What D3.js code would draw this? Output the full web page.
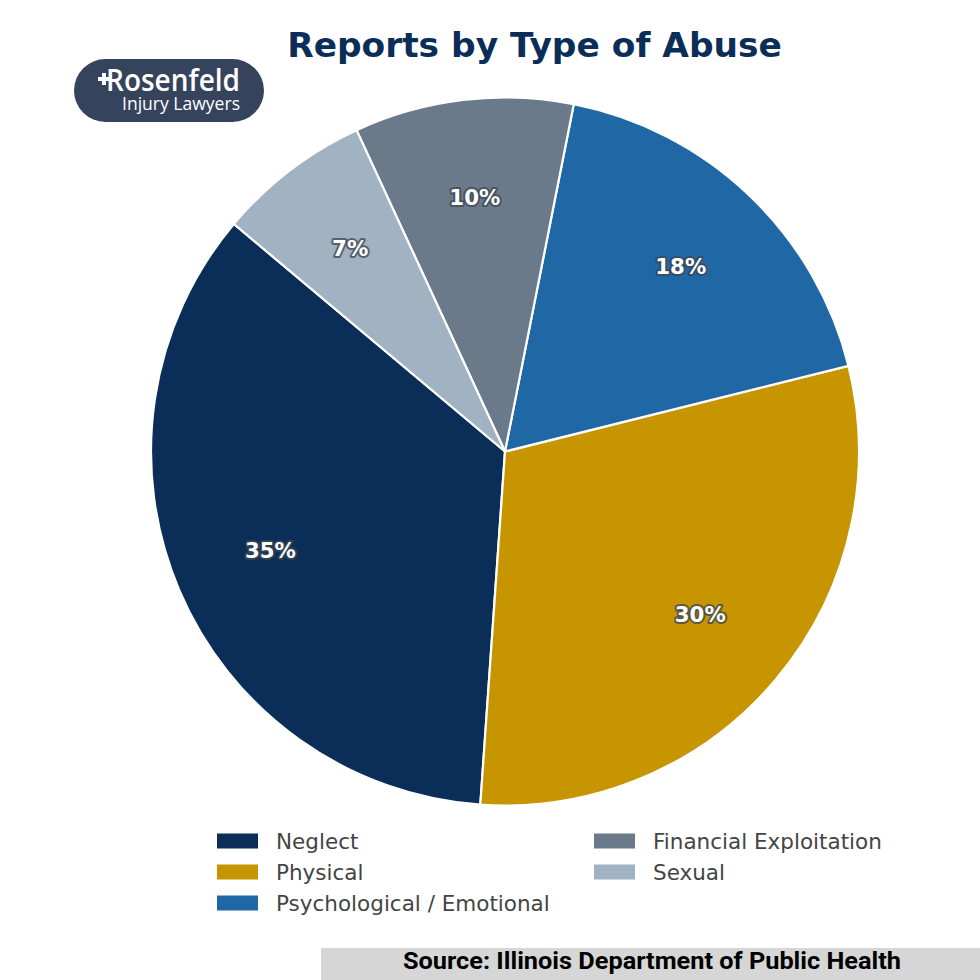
<!DOCTYPE html>
<html lang="en">
<head>
  <meta charset="UTF-8" />
  <title>Reports by Type of Abuse</title>
  <style>
    body { margin: 0; background: #fff; }
    svg { display: block; }
    text { font-family: "DejaVu Sans", sans-serif; }
  </style>
</head>
<body>
  <svg width="980" height="980"></svg>

  <script src="https://d3js.org/d3.v7.min.js"></script>
  <script>
    // Values
    const categories = ['Neglect', 'Physical', 'Psychological / Emotional', 'Financial Exploitation', 'Sexual'];
    const shares = [35, 30, 18, 10, 7];
    const colors = ['#0b2e59', '#c69500', '#2067a5', '#6b7a8a', '#a1b2c3'];

    const svg = d3.select('svg');
    const cx = 505, cy = 451.5, radius = 354;
    const deg = Math.PI / 180;

    svg.append('text')
      .attr('x', 534.5).attr('y', 57)
      .attr('text-anchor', 'middle')
      .attr('font-size', 34.4).attr('font-weight', 'bold')
      .attr('fill', '#0b2e59')
      .text('Reports by Type of Abuse');

    // Slices run counterclockwise, starting from the upper left
    const pie = d3.pie().sort(null).startAngle(-50 * deg).endAngle(-410 * deg);
    const arcs = pie(shares);
    const arc = d3.arc().innerRadius(0).outerRadius(radius);
    const labelArc = d3.arc().innerRadius(radius * 0.72).outerRadius(radius * 0.72);

    const g = svg.append('g').attr('transform', `translate(${cx},${cy})`);

    g.selectAll('path')
      .data(arcs)
      .enter().append('path')
      .attr('d', arc)
      .attr('fill', (d, i) => colors[i])
      .attr('stroke', '#fff')
      .attr('stroke-width', 2.2)
      .attr('stroke-linejoin', 'round');

    g.selectAll('text')
      .data(arcs)
      .enter().append('text')
      .attr('transform', d => `translate(${labelArc.centroid(d)})`)
      .attr('text-anchor', 'middle')
      .attr('dy', '0.32em')
      .attr('font-size', 21.3).attr('font-weight', 'bold')
      .attr('fill', '#fff')
      .attr('stroke', '#3c4650').attr('stroke-opacity', 0.75)
      .attr('stroke-width', 4).attr('stroke-linejoin', 'round')
      .attr('paint-order', 'stroke')
      .text(d => d.data + '%');

    // Legend, filled column by column
    const rowY = d3.scalePoint().domain([0, 1, 2]).range([841, 903]);
    const colX = [217, 594];
    const perCol = [3, 2];
    const legend = svg.append('g');
    categories.forEach((name, i) => {
      const col = i < perCol[0] ? 0 : 1;
      const row = col === 0 ? i : i - perCol[0];
      const y = rowY(row);
      legend.append('rect')
        .attr('x', colX[col]).attr('y', y - 7.5)
        .attr('width', 41).attr('height', 15)
        .attr('fill', colors[i]);
      legend.append('text')
        .attr('x', colX[col] + 59).attr('y', y + 8)
        .attr('font-size', 21.5)
        .attr('fill', '#444')
        .text(name);
    });

    // Logo badge
    const logo = svg.append('g');
    logo.append('rect')
      .attr('x', 74).attr('y', 59).attr('width', 190).attr('height', 63)
      .attr('rx', 31.5)
      .attr('fill', '#36435c');
    logo.append('text')
      .attr('x', 240).attr('y', 91)
      .attr('text-anchor', 'end')
      .style('font-family', '"Open Sans", sans-serif')
      .attr('font-size', 30).attr('font-weight', 600)
      .attr('fill', '#fff')
      .attr('textLength', 134).attr('lengthAdjust', 'spacingAndGlyphs')
      .text('Rosenfeld');
    logo.append('rect').attr('x', 98).attr('y', 77).attr('width', 12).attr('height', 4).attr('fill', '#fff');
    logo.append('rect').attr('x', 102).attr('y', 73).attr('width', 4).attr('height', 12).attr('fill', '#fff');
    logo.append('text')
      .attr('x', 240).attr('y', 110)
      .attr('text-anchor', 'end')
      .style('font-family', '"Open Sans", sans-serif')
      .attr('font-size', 18)
      .attr('fill', '#fff')
      .attr('textLength', 118).attr('lengthAdjust', 'spacingAndGlyphs')
      .text('Injury Lawyers');

    // Source strip
    svg.append('rect')
      .attr('x', 321).attr('y', 948).attr('width', 659).attr('height', 32)
      .attr('fill', '#d6d6d6');
    svg.append('text')
      .attr('x', 652).attr('y', 969)
      .attr('text-anchor', 'middle')
      .style('font-family', 'Roboto, sans-serif')
      .attr('font-size', 24).attr('font-weight', 'bold')
      .attr('fill', '#000')
      .attr('textLength', 498).attr('lengthAdjust', 'spacingAndGlyphs')
      .text('Source: Illinois Department of Public Health');
  </script>
</body>
</html>
